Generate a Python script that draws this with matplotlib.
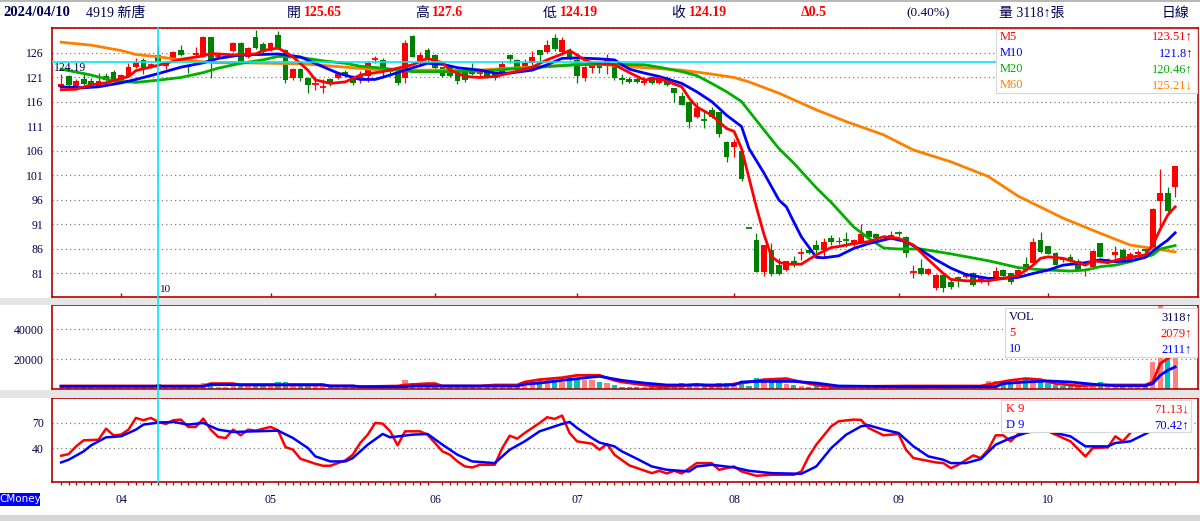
import matplotlib
matplotlib.use("Agg")
import matplotlib.pyplot as plt
from matplotlib.lines import Line2D
from matplotlib.patches import Rectangle
import matplotlib.transforms as mtransforms

plt.rcParams["font.family"] = ["Liberation Serif", "Noto Sans CJK TC", "DejaVu Sans"]

# ---------------- data ----------------
opens = [
    119.1, 121.3, 119.3, 120.6, 120.3, 119.3, 121.3, 122.2, 120.5, 121.3,
    123.2, 124.6, 123.5, 125.65, 123.3, 124.7, 126.6, 123.4, 125.6, 125.4,
    129.2, 125.2, 125.2, 126.5, 128.0, 125.2, 129.2, 127.8, 126.8, 129.7,
    126.6, 120.8, 122.7, 120.8, 119.6, 119.0, 120.6, 120.8, 122.1, 120.8,
    121.2, 121.4, 124.7, 124.6, 122.6, 121.9, 120.8, 129.5, 123.9, 126.6,
    125.6, 123.1, 123.1, 122.7, 122.3, 122.8, 121.9, 122.3, 121.9, 121.9,
    125.6, 124.6, 123.3, 123.9, 126.6, 126.3, 129.0, 126.3, 126.1, 124.6,
    120.8, 122.9, 123.9, 123.9, 123.3, 120.8, 120.6, 120.6, 119.8, 121.0,
    119.9, 120.8, 118.8, 117.2, 115.9, 113.0, 112.3, 114.4, 113.9, 107.8,
    106.9, 105.9, 90.3, 87.8, 81.4, 85.7, 82.7, 81.8, 83.5, 85.2,
    85.8, 86.8, 85.8, 88.2, 87.6, 87.9, 86.8, 87.5, 89.7, 89.0,
    88.2, 88.3, 89.4, 88.4, 81.3, 82.2, 80.9, 78.0, 80.7, 79.3,
    80.2, 80.5, 81.2, 79.3, 79.2, 80.3, 81.7, 81.0, 80.5, 82.9,
    83.2, 87.8, 86.6, 85.1, 84.2, 84.3, 83.5, 81.8, 82.3, 87.2,
    83.3, 84.8, 85.8, 83.8, 84.9, 86.0, 85.8, 95.8, 97.5, 98.7,
]
highs = [
    121.7, 121.6, 120.6, 122.2, 120.8, 122.0, 121.9, 122.6, 121.8, 124.0,
    124.9, 124.9, 124.0, 127.6, 124.2, 126.4, 127.6, 123.6, 127.2, 129.5,
    129.3, 125.8, 125.6, 128.2, 128.2, 127.2, 130.7, 128.3, 128.2, 130.5,
    126.8, 122.9, 122.9, 121.0, 121.2, 120.6, 120.8, 121.9, 122.5, 121.5,
    122.3, 124.4, 125.3, 124.9, 123.0, 122.0, 128.7, 129.6, 126.2, 127.0,
    125.8, 123.2, 123.2, 123.0, 122.5, 123.9, 122.8, 122.5, 122.0, 124.4,
    125.7, 124.8, 124.7, 126.4, 126.7, 128.7, 129.8, 129.3, 127.1, 124.9,
    123.3, 124.2, 124.0, 125.8, 123.5, 121.7, 121.0, 121.0, 121.1, 121.2,
    121.4, 121.3, 118.9, 118.0, 116.2, 115.9, 114.4, 115.0, 114.0, 108.0,
    108.5, 106.0, 90.3, 89.3, 86.8, 87.3, 84.2, 83.5, 84.5, 86.1,
    86.0, 87.9, 88.2, 88.8, 88.4, 89.4, 88.0, 91.2, 89.9, 89.3,
    88.8, 89.6, 89.6, 88.6, 82.7, 84.0, 82.2, 80.9, 80.8, 79.9,
    80.5, 81.0, 81.4, 80.3, 79.8, 82.4, 81.9, 81.2, 81.9, 84.4,
    88.2, 89.5, 86.7, 85.3, 84.3, 84.9, 84.0, 82.1, 85.8, 87.3,
    84.2, 86.6, 86.2, 85.3, 85.8, 86.3, 94.4, 102.3, 98.7, 102.9,
]
lows = [
    118.9, 119.2, 119.0, 119.4, 119.2, 119.1, 120.3, 120.1, 120.3, 121.1,
    123.0, 121.7, 123.0, 124.19, 122.8, 124.5, 125.4, 121.9, 125.2, 125.2,
    120.8, 124.8, 124.9, 126.3, 123.8, 125.0, 126.8, 126.0, 126.5, 126.8,
    119.8, 120.5, 120.3, 117.9, 118.5, 117.9, 119.3, 120.6, 121.0, 119.5,
    119.8, 120.0, 124.0, 120.8, 121.3, 119.5, 119.8, 125.2, 123.5, 124.4,
    122.5, 121.0, 121.2, 119.6, 120.0, 121.6, 121.3, 120.8, 120.5, 121.6,
    124.0, 122.6, 123.1, 123.5, 124.0, 126.0, 126.5, 125.6, 124.5, 119.8,
    120.3, 121.9, 121.9, 121.8, 120.4, 119.6, 119.9, 119.9, 119.5, 119.6,
    119.6, 119.3, 115.9, 115.3, 110.6, 112.8, 110.6, 112.8, 108.9, 103.8,
    104.8, 99.9, 90.3, 81.3, 80.4, 80.5, 80.7, 81.5, 82.4, 83.8,
    85.0, 85.2, 84.4, 86.9, 87.0, 86.4, 86.3, 87.3, 88.0, 87.9,
    87.8, 88.2, 88.7, 84.4, 80.0, 80.6, 80.7, 77.7, 77.3, 77.8,
    78.3, 80.0, 78.5, 79.0, 78.7, 80.1, 80.3, 78.8, 80.4, 81.5,
    82.9, 85.2, 84.9, 82.7, 83.3, 83.3, 81.5, 80.4, 82.0, 84.3,
    83.1, 83.8, 83.6, 83.4, 84.7, 85.4, 85.7, 90.3, 93.5, 96.7,
]
closes = [
    119.7, 119.5, 120.3, 119.6, 119.5, 120.3, 120.5, 120.3, 121.5, 123.2,
    123.9, 122.9, 123.5, 124.19, 123.9, 126.1, 125.6, 123.1, 126.0, 129.2,
    123.9, 125.3, 125.4, 128.0, 124.2, 127.0, 127.0, 126.3, 128.0, 127.0,
    120.5, 122.7, 120.8, 119.5, 119.6, 119.1, 119.7, 121.7, 121.3, 119.8,
    121.2, 123.9, 124.7, 122.9, 122.1, 119.8, 128.0, 125.2, 125.6, 124.6,
    122.9, 121.4, 121.4, 120.3, 120.5, 121.8, 121.9, 121.1, 120.8, 123.8,
    124.7, 123.1, 124.0, 125.1, 125.6, 127.6, 126.8, 128.7, 124.9, 121.4,
    123.1, 123.9, 122.9, 124.9, 120.8, 120.4, 120.1, 120.1, 120.2, 119.8,
    120.6, 119.5, 117.9, 115.4, 112.0, 114.7, 112.3, 113.0, 109.5, 104.8,
    107.8, 100.3, 90.3, 81.4, 86.8, 80.9, 80.9, 83.5, 83.2, 85.2,
    85.1, 85.8, 87.4, 87.4, 87.4, 87.8, 87.8, 89.0, 88.5, 88.2,
    88.7, 88.8, 89.3, 85.1, 81.4, 80.9, 81.9, 80.7, 78.1, 78.3,
    80.1, 80.5, 78.7, 80.3, 79.7, 81.6, 80.5, 79.3, 81.7, 81.7,
    87.5, 85.4, 85.0, 82.7, 83.8, 83.5, 81.8, 81.8, 85.6, 84.4,
    83.5, 85.4, 83.8, 84.9, 85.4, 85.5, 94.2, 97.5, 93.8, 102.9,
]
volumes = [
    2600, 1600, 2000, 1800, 1500, 2900, 1800, 2000, 1900, 2500,
    2000, 2200, 1800, 3118, 2000, 2300, 1900, 2000, 2600, 3800,
    4300, 1600, 1400, 2800, 2500, 2000, 3300, 2200, 2400, 4800,
    4500, 2600, 2000, 2200, 1800, 1900, 1600, 1800, 1500, 2000,
    1500, 2200, 1800, 1600, 1200, 1600, 6000, 4200, 1800, 2600,
    2500, 2000, 1800, 1900, 1700, 1800, 1500, 1600, 1400, 2600,
    2200, 1800, 2400, 5300, 6000, 7000, 6000, 4400, 9000, 7300,
    6200, 6200, 4700, 4300, 2600, 1500, 1500, 1400, 1600, 1500,
    1200, 2000, 3000, 4000, 3500, 2000, 2600, 2200, 4000, 4000,
    3000, 4800, 2000, 7600, 6000, 4700, 5000, 3100, 2500, 2200,
    1500, 1800, 2200, 1500, 1200, 1400, 1500, 1800, 1500, 1200,
    1200, 1300, 1500, 2600, 1600, 1800, 1300, 1700, 1700, 1600,
    1200, 1100, 1600, 1400, 5300, 5300, 3700, 3300, 5700, 6000,
    6000, 6100, 4000, 2600, 2200, 2400, 2600, 2000, 3600, 4400,
    2000, 2500, 2800, 2200, 2600, 2500, 18200, 60000, 32000, 24000,
]

# moving averages read at sample days
m5_days = [0, 2, 4, 6, 9, 10, 13, 16, 19, 20, 23, 26, 27, 29, 30, 31, 33, 34, 36, 38,
           40, 43, 45, 47, 49, 51, 52, 54, 56, 58, 60, 63, 65, 67, 68, 69, 70, 71, 74, 76,
           78, 80, 83, 84, 85, 87, 89, 90, 91, 92, 93, 94, 95, 96, 97, 99, 101, 103, 104, 106,
           108, 110, 112, 114, 116, 118, 119, 121, 124, 126, 128, 130, 131, 132, 134, 137, 138, 140, 142, 143,
           145, 146, 147, 148, 149]
m5_vals = [118.5, 118.6, 119.5, 119.9, 121.2, 122.4, 123.51, 124.7, 125.4, 125.9, 125.6, 125.8, 126.5, 127.0, 126.2, 125.2, 122.5, 120.5, 119.8, 120.1,
           121.5, 122.2, 122.9, 123.6, 124.9, 124.0, 122.5, 121.2, 121.0, 121.2, 121.9, 123.1, 124.6, 125.8, 126.5, 125.6, 124.6, 124.0, 123.6, 122.0,
           120.5, 120.8, 119.1, 116.8, 115.0, 113.3, 110.6, 110.0, 106.5, 100.5, 94.5, 89.0, 84.5, 83.3, 82.9, 82.9, 84.8, 86.3, 86.5, 87.1,
           87.5, 88.5, 88.2, 86.8, 83.8, 81.0, 79.8, 79.5, 79.5, 80.0, 80.6, 82.7, 84.1, 84.4, 84.1, 82.7, 83.6, 83.2, 84.1, 84.3,
           84.8, 86.8, 90.0, 92.9, 94.6]
m10_days = [0, 3, 5, 8, 10, 13, 16, 19, 21, 24, 27, 29, 32, 35, 37, 40, 42, 44, 46, 49,
            51, 53, 56, 58, 60, 63, 65, 67, 69, 72, 74, 76, 78, 80, 83, 85, 87, 89, 91, 92,
            94, 96, 97, 98, 99, 101, 102, 104, 106, 108, 111, 113, 115, 117, 119, 121, 124, 126, 128, 130,
            132, 134, 137, 139, 141, 143, 145, 146, 147, 148, 149]
m10_vals = [119.1, 118.9, 119.1, 119.9, 120.6, 121.8, 123.1, 124.0, 124.9, 125.6, 125.7, 125.8, 125.2, 123.2, 121.9, 120.6, 120.6, 121.5, 122.5, 123.9,
            123.7, 123.0, 122.5, 121.9, 121.9, 122.5, 123.6, 124.9, 125.0, 124.8, 124.6, 122.7, 121.9, 121.2, 119.8, 118.1, 116.1, 113.3, 111.0, 106.5,
            101.5, 96.0, 94.6, 91.5, 88.5, 84.3, 84.2, 84.6, 86.1, 87.1, 88.2, 87.5, 85.8, 83.8, 82.1, 80.8, 80.0, 80.0, 80.2, 81.0,
            81.7, 82.7, 83.2, 83.8, 83.4, 83.6, 84.3, 85.5, 86.7, 87.8, 89.3]
m20_days = [0, 4, 7, 10, 13, 16, 19, 21, 24, 27, 29, 32, 35, 38, 40, 43, 47, 52, 56, 60,
            63, 65, 69, 72, 78, 80, 83, 85, 87, 89, 91, 94, 96, 98, 101, 103, 106, 108, 110, 112,
            115, 119, 124, 128, 130, 132, 135, 137, 139, 141, 143, 146, 147, 149]
m20_vals = [122.7, 121.5, 120.3, 120.0, 120.46, 121.0, 122.0, 122.9, 123.9, 124.6, 125.3, 125.1, 124.4, 123.9, 123.3, 122.9, 122.2, 122.2, 122.3, 122.7,
            123.0, 123.2, 123.6, 123.7, 123.6, 123.1, 122.2, 121.4, 119.8, 118.1, 116.1, 110.3, 106.5, 103.5, 98.5, 95.5, 90.5, 88.2, 86.2, 86.0,
            86.0, 85.0, 83.6, 82.2, 81.9, 81.7, 81.5, 81.7, 82.4, 82.7, 83.4, 84.8, 86.0, 86.7]
m60_days = [0, 4, 8, 10, 13, 16, 19, 21, 24, 28, 32, 34, 38, 43, 47, 52, 56, 60, 65, 69,
            72, 78, 83, 87, 90, 92, 96, 101, 105, 110, 114, 119, 124, 128, 130, 134, 139, 143, 146, 149]
m60_vals = [128.2, 127.6, 126.5, 125.7, 125.21, 124.6, 124.2, 124.0, 124.0, 123.9, 123.8, 123.6, 123.1, 122.5, 122.5, 122.5, 122.5, 122.9, 123.3, 123.7,
            123.7, 123.0, 122.5, 121.7, 121.0, 120.1, 117.8, 114.4, 112.0, 109.3, 106.2, 103.8, 100.8, 96.8, 95.3, 92.3, 89.2, 86.8, 86.1, 85.4]

# volume averages read at sample days
v5_days = [0, 19, 20, 23, 24, 35, 36, 39, 40, 45, 46, 49, 50, 51, 56, 58, 61, 62, 64, 67,
           69, 72, 74, 75, 78, 80, 83, 85, 87, 89, 92, 94, 97, 99, 101, 103, 113, 123, 125, 127,
           129, 131, 133, 136, 139, 145, 146, 147, 148, 149]
v5_vals = [2020, 2020, 3640, 3640, 2700, 2700, 2020, 2020, 1570, 2020, 2700, 3640, 3640, 2020, 2020, 2700, 2700, 4700, 6300, 7600,
           9200, 9200, 5800, 4700, 2700, 1570, 2020, 3200, 2020, 2700, 4700, 6300, 7000, 4700, 2700, 1570, 2020, 2020, 4000, 5800,
           7000, 6300, 3640, 2200, 2700, 2700, 4700, 17000, 20500, 23000]
v10_days = [0, 19, 20, 35, 36, 39, 40, 46, 47, 61, 62, 64, 67, 71, 72, 75, 78, 81, 90, 91,
            93, 98, 101, 104, 112, 125, 126, 129, 132, 135, 138, 141, 145, 146, 147, 148, 149]
v10_vals = [1800, 1800, 2900, 2900, 2020, 2020, 1570, 1570, 2020, 2020, 3200, 4000, 5800, 8000, 8500, 5800, 4000, 2700, 2700, 4700,
            5100, 5100, 4000, 2020, 1570, 1570, 3640, 4700, 5400, 4700, 3200, 2200, 2200, 3640, 9200, 12500, 14800]

# stochastic K / D read at sample days
k_days = [0, 1, 2, 3, 5, 6, 7, 8, 9, 10, 11, 12, 13, 14, 15, 16, 17, 18, 19, 20,
          21, 22, 23, 24, 25, 26, 28, 29, 30, 31, 32, 34, 35, 36, 38, 39, 40, 41, 42, 43,
          44, 45, 46, 47, 48, 49, 50, 51, 52, 53, 54, 55, 56, 57, 58, 59, 60, 61, 62, 63,
          64, 65, 66, 67, 68, 69, 71, 72, 73, 74, 76, 79, 80, 81, 82, 83, 85, 87, 88, 90,
          91, 93, 95, 98, 99, 100, 101, 103, 104, 106, 107, 108, 110, 112, 113, 114, 117, 118, 119, 120,
          122, 123, 124, 125, 126, 127, 128, 129, 130, 131, 132, 133, 135, 137, 138, 140, 141, 142, 143, 144,
          145, 146, 147, 148, 149]
k_vals = [30.8, 32.8, 42, 49.2, 50, 63.2, 55.2, 56, 62, 76, 73.2, 76, 71.13, 68.8, 73.2, 74, 65.2, 65.2, 75.2, 62,
          53.2, 52, 62, 55.2, 62, 60.8, 65.2, 61.2, 41.2, 38, 27.2, 21.2, 18.8, 18.8, 25.2, 32, 46, 56, 70, 69.2,
          60, 43.2, 60, 60, 60, 56, 46, 36, 32, 24, 18, 16.8, 20, 20, 20, 40, 54.8, 51.2, 58, 64,
          70, 76.8, 74.8, 78.8, 58, 48, 45.2, 38, 44.8, 32, 19.2, 10, 12.8, 9.6, 12.8, 9.6, 22, 22, 14, 18,
          12, 6.8, 8, 8, 12, 30, 44, 66, 72, 74, 73.6, 64, 55.2, 56.8, 38, 28, 22.8, 22, 16, 20,
          31.2, 28, 38, 55.2, 55.2, 48, 56.8, 62, 70, 68, 60, 56, 48, 30, 40, 40.8, 54, 48, 58, 66,
          70, 78, 85, 82, 84]
d_days = [0, 1, 3, 4, 6, 8, 10, 11, 13, 15, 17, 19, 21, 23, 26, 29, 31, 33, 34, 36,
          38, 39, 41, 43, 44, 47, 49, 51, 53, 55, 58, 60, 62, 64, 67, 68, 69, 70, 71, 72,
          74, 75, 77, 79, 81, 84, 85, 87, 90, 92, 95, 99, 101, 103, 105, 107, 108, 110, 112, 114,
          116, 118, 119, 121, 123, 125, 127, 129, 131, 133, 135, 137, 140, 141, 143, 145, 147, 149]
d_vals = [22.8, 26, 36, 43.2, 52.8, 54, 62, 68, 70.42, 71.2, 68, 70, 62, 59.2, 60, 60.8, 52, 40, 30, 24,
          24, 28, 44, 56.8, 52.8, 56, 56.8, 44, 32, 24, 22, 38, 48, 60, 68.8, 71.2, 64, 58, 52, 46.5,
          42, 36, 27.2, 18, 14, 12, 18, 20, 16.8, 12.8, 10, 9.2, 18, 40, 56, 66, 67.2, 62, 58, 42,
          30, 26, 22, 22, 26.8, 44, 52, 58, 62, 58, 54, 42, 42, 46, 48, 56.8, 66, 72]

month_idx = [8, 28, 50, 69, 90, 112, 132]
month_labels = ["04", "05", "06", "07", "08", "09", "10"]
cursor_idx = 13

price_ticks = [81, 86, 91, 96, 101, 106, 111, 116, 121, 126, 131]
vol_ticks = [20000, 40000]
kd_ticks = [40, 70, 100]

# ---------------- style ----------------
W, H = 1200, 521
RED = "#ff0000"
GRN = "#008000"
BLU = "#0000ff"
MA20 = "#00b000"
ORG = "#ff8000"
NAVY = "#000050"
FRAME = "#b40000"
CYAN = "#00e8f0"
GRID = dict(color="#808080", linestyle=(0, (1, 2.5)), linewidth=0.9)

fig = plt.figure(figsize=(W / 100, H / 100), dpi=100, facecolor="white")


def fbox(x0, y0, x1, y1):
    return [x0 / W, 1 - y1 / H, (x1 - x0) / W, (y1 - y0) / H]


def ftext(x, y, s, **kw):
    kw.setdefault("va", "center")
    return fig.text(x / W, 1 - y / H, s, **kw)


def frect(x0, y0, x1, y1, fc, ec="none", z=0.5, lw=0.8):
    fig.add_artist(Rectangle((x0 / W, 1 - y1 / H), (x1 - x0) / W, (y1 - y0) / H,
                             transform=fig.transFigure, facecolor=fc, edgecolor=ec,
                             linewidth=lw, zorder=z))


# gray separators
frect(0, 0, W, 2, "#b8b8b8")
frect(0, 297.5, W, 305, "#e6e6e6")
frect(0, 389.5, W, 397.5, "#e6e6e6")
frect(0, 515, W, H, "#d6d6d6")

ax_p = fig.add_axes(fbox(52, 28, 1198, 297))
ax_v = fig.add_axes(fbox(52, 305, 1198, 389))
ax_k = fig.add_axes(fbox(52, 397.5, 1198, 481.5))

n = len(closes)
days = list(range(n))
xlim = (-1.23, 152.06)

for ax in (ax_p, ax_v, ax_k):
    ax.set_xlim(*xlim)
    for sp in ax.spines.values():
        sp.set_color(FRAME)
        sp.set_linewidth(1.2)
    ax.tick_params(axis="y", length=0, labelsize=8.5, labelcolor=NAVY, pad=6)

# candle colours
colors = []
for i in days:
    o, c = opens[i], closes[i]
    if c > o:
        colors.append(RED)
    elif c < o:
        colors.append(GRN)
    else:
        prev = closes[i - 1] if i else c
        colors.append(RED if c >= prev else GRN)

# ---------------- price panel ----------------
ax_p.set_ylim(76.2, 131.1)
ax_p.set_yticks(price_ticks, [str(t) if t < 131 else "" for t in price_ticks])
ax_p.set_xticks([])
ax_p.grid(axis="y", **GRID)
ax_p.set_axisbelow(True)

ax_p.vlines(days, lows, highs, colors=colors, linewidth=0.9, zorder=2)
body_lo = [min(o, c) for o, c in zip(opens, closes)]
body_h = [abs(c - o) for o, c in zip(opens, closes)]
big = [i for i in days if body_h[i] >= 0.12]
flat = [i for i in days if body_h[i] < 0.12]
ax_p.bar(big, [body_h[i] for i in big], bottom=[body_lo[i] for i in big],
         width=0.78, color=[colors[i] for i in big], linewidth=0, zorder=2)
ax_p.hlines([closes[i] for i in flat], [i - 0.42 for i in flat], [i + 0.42 for i in flat],
            colors=[colors[i] for i in flat], linewidth=1.3, zorder=2)

ax_p.plot(m60_days, m60_vals, color=ORG, lw=2.0, zorder=3)
ax_p.plot(m20_days, m20_vals, color=MA20, lw=2.0, zorder=3)
ax_p.plot(m10_days, m10_vals, color=BLU, lw=2.0, zorder=4)
ax_p.plot(m5_days, m5_vals, color=RED, lw=2.0, zorder=5)

ax_p.axhline(closes[cursor_idx], color=CYAN, lw=1.2, zorder=6)
ax_p.text(0.002, closes[cursor_idx], f"{closes[cursor_idx]:.2f}",
          transform=mtransforms.blended_transform_factory(ax_p.transAxes, ax_p.transData),
          ha="left", va="top", fontsize=8.5, color=NAVY, zorder=7)
ax_p.text(cursor_idx + 0.2, 0.012, "10",
          transform=mtransforms.blended_transform_factory(ax_p.transData, ax_p.transAxes),
          ha="left", va="bottom", fontsize=8, color=NAVY)
ax_p.vlines(month_idx, 0, 0.016,
            transform=mtransforms.blended_transform_factory(ax_p.transData, ax_p.transAxes),
            colors=FRAME, linewidth=1.0)

# ---------------- volume panel ----------------
ax_v.set_ylim(0, 56400)
ax_v.set_yticks(vol_ticks, [str(t) for t in vol_ticks])
ax_v.set_xticks([])
ax_v.grid(axis="y", **GRID)
ax_v.set_axisbelow(True)
vcols = ["#ff8080" if c == RED else "#00c0c0" for c in colors]
ax_v.bar(days, volumes, width=0.7, color=vcols, linewidth=0, zorder=2)
ax_v.plot(v5_days, v5_vals, color=RED, lw=2.0, zorder=3)
ax_v.plot(v10_days, v10_vals, color=BLU, lw=2.0, zorder=4)

# ---------------- KD panel ----------------
ax_k.set_ylim(0, 100.4)
ax_k.set_yticks(kd_ticks, ["40", "70", ""])
ax_k.grid(axis="y", **GRID)
ax_k.set_axisbelow(True)
ax_k.plot(k_days, k_vals, color=RED, lw=1.8, zorder=3)
ax_k.plot(d_days, d_vals, color=BLU, lw=1.8, zorder=4)
ax_k.set_xticks(month_idx, month_labels)
ax_k.set_xticks(days, minor=True)
ax_k.tick_params(axis="x", which="major", length=0, pad=9, labelsize=8.5, labelcolor=NAVY)
ax_k.tick_params(axis="x", which="minor", length=2.5, width=0.9, color=FRAME, direction="out")

# cursor line through all panels
x_disp = ax_p.transData.transform((cursor_idx, 0))[0]
x_fig = fig.transFigure.inverted().transform((x_disp, 0))[0]
fig.add_artist(Line2D([x_fig, x_fig], [1 - 28 / H, 1 - 481.5 / H], transform=fig.transFigure,
                      color=CYAN, lw=1.2, zorder=6))

# ---------------- legend boxes ----------------
frect(996, 29, 1197, 93, "white", "#d8d8d8", z=10)
leg_rows = [("M5", "123.51↑", RED, 36.5), ("M10", "121.8↑", BLU, 53),
            ("M20", "120.46↑", MA20, 69.5), ("M60", "125.21↓", ORG, 85.5)]
for name, val, col, yy in leg_rows:
    ftext(1000, yy, name, color=col, fontsize=9, zorder=11)
    ftext(1193, yy, val, color=col, fontsize=9, ha="right", zorder=11)

frect(1005, 308, 1197, 357, "white", "#d8d8d8", z=10)
for name, val, col, yy in [("VOL", "3118↑", NAVY, 317), ("5", "2079↑", RED, 333), ("10", "2111↑", BLU, 349)]:
    ftext(1009, yy, name, color=col, fontsize=9, zorder=11)
    ftext(1192, yy, val, color=col, fontsize=9, ha="right", zorder=11)

frect(1001, 400, 1191, 432, "white", "#d8d8d8", z=10)
for name, val, col, yy in [("K 9", "71.13↓", RED, 409), ("D 9", "70.42↑", BLU, 425.5)]:
    ftext(1006, yy, name, color=col, fontsize=9, zorder=11)
    ftext(1189, yy, val, color=col, fontsize=9, ha="right", zorder=11)

# ---------------- header ----------------
ftext(3, 13, "2024/04/10", color=NAVY, fontsize=10.5, fontweight="bold")
ftext(86, 13, "4919 新唐", color=NAVY, fontsize=10)
for lab, lx, val, vx in [("開", 287, "125.65", 304), ("高", 415, "127.6", 432),
                         ("低", 543, "124.19", 560), ("收", 671, "124.19", 689)]:
    ftext(lx, 13, lab, color=NAVY, fontsize=10)
    ftext(vx, 13, val, color=RED, fontsize=10, fontweight="bold")
ftext(801, 13, "Δ0.5", color=RED, fontsize=10, fontweight="bold")
ftext(906, 13, "(0.40%)", color=NAVY, fontsize=9.5)
ftext(999, 13, "量 3118↑張", color=NAVY, fontsize=10)
ftext(1162, 13, "日線", color=NAVY, fontsize=10)

# CMoney tag
frect(0, 493, 40, 506, "#0000ff", z=1)
ftext(20, 499.5, "CMoney", color="white", fontsize=7.5, ha="center",
      family=["DejaVu Sans"], zorder=2)

fig.savefig("out.png", dpi=100, facecolor="white")
